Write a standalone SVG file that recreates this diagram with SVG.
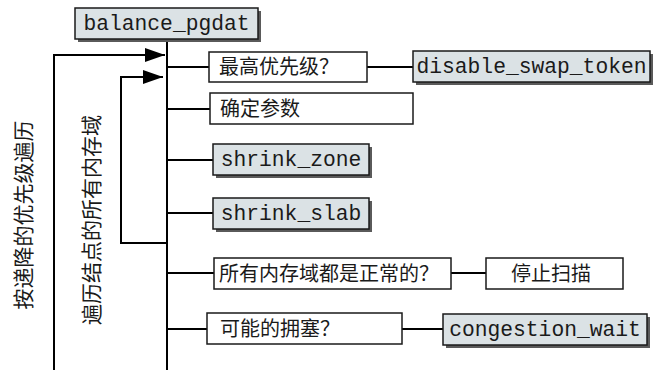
<svg xmlns="http://www.w3.org/2000/svg" width="654" height="370" viewBox="0 0 654 370">
<style>
.box{fill:#ffffff;stroke:#1a1a1a;stroke-width:1.5}
.gbox{fill:#dbe2e5;stroke:#1a1a1a;stroke-width:1.5}
.shadow{fill:#5a5a5a}
.ln{stroke:#000;stroke-width:2;fill:none}
.cj{font-family:"Noto Sans CJK SC","Noto Sans",sans-serif;font-size:20px;fill:#1a1a1a}
.vt{font-family:"Noto Sans CJK SC","Noto Sans",sans-serif;font-size:21px;fill:#1a1a1a}
.mo{font-family:"Liberation Mono","DejaVu Sans Mono",monospace;font-size:21.3px;fill:#1a1a1a}
</style>
<defs>
<marker id="ah" viewBox="0 0 20 14" refX="20" refY="7" markerWidth="20" markerHeight="14" markerUnits="userSpaceOnUse" orient="auto">
<path d="M0,0 L20,7 L0,14 Z" fill="#000"/>
</marker>
</defs>
<g id="connectors">
<line class="ln" x1="167" y1="39" x2="167" y2="370"/>
<polyline class="ln" points="54,370 54,55 165,55" marker-end="url(#ah)"/>
<polyline class="ln" points="167,243 121,243 121,77 163,77" marker-end="url(#ah)"/>
<line class="ln" x1="167" y1="67" x2="209" y2="67"/>
<line class="ln" x1="367" y1="67" x2="413" y2="67"/>
<line class="ln" x1="167" y1="109" x2="210" y2="109"/>
<line class="ln" x1="167" y1="160" x2="213" y2="160"/>
<line class="ln" x1="167" y1="213" x2="213" y2="213"/>
<line class="ln" x1="167" y1="273" x2="214" y2="273"/>
<line class="ln" x1="451" y1="273" x2="486" y2="273"/>
<line class="ln" x1="167" y1="329" x2="207" y2="329"/>
<line class="ln" x1="402" y1="329" x2="443" y2="329"/>
</g>
<g id="balance_pgdat">
<rect class="shadow" x="78" y="11" width="183" height="31"/>
<rect class="gbox" x="75" y="8" width="183" height="31"/>
<text class="mo" x="166.5" y="30" text-anchor="middle">balance_pgdat</text>
</g>
<g id="label_priority">
<text class="vt" transform="translate(22,215) rotate(-90)" text-anchor="middle" dominant-baseline="central">按递降的优先级遍历</text>
</g>
<g id="label_zones">
<text class="vt" transform="translate(90,220) rotate(-90)" text-anchor="middle" dominant-baseline="central">遍历结点的所有内存域</text>
</g>
<g id="highest_priority">
<rect class="box" x="209" y="52" width="158" height="30"/>
<text class="cj" x="219" y="74">最高优先级？</text>
</g>
<g id="disable_swap_token">
<rect class="shadow" x="416" y="54" width="237" height="31"/>
<rect class="gbox" x="413" y="51" width="237" height="31"/>
<text class="mo" x="531.5" y="73" text-anchor="middle">disable_swap_token</text>
</g>
<g id="determine_params">
<rect class="box" x="210" y="93" width="203" height="31"/>
<text class="cj" x="220" y="116">确定参数</text>
</g>
<g id="shrink_zone">
<rect class="shadow" x="216" y="147" width="156" height="31"/>
<rect class="gbox" x="213" y="144" width="156" height="31"/>
<text class="mo" x="291" y="166" text-anchor="middle">shrink_zone</text>
</g>
<g id="shrink_slab">
<rect class="shadow" x="216" y="201" width="156" height="31"/>
<rect class="gbox" x="213" y="198" width="156" height="31"/>
<text class="mo" x="291" y="220" text-anchor="middle">shrink_slab</text>
</g>
<g id="all_zones_ok">
<rect class="box" x="214" y="258" width="237" height="31"/>
<text class="cj" x="219" y="281">所有内存域都是正常的？</text>
</g>
<g id="stop_scan">
<rect class="box" x="486" y="258" width="137" height="31"/>
<text class="cj" x="551" y="281" text-anchor="middle">停止扫描</text>
</g>
<g id="congestion">
<rect class="box" x="207" y="313" width="195" height="31"/>
<text class="cj" x="220" y="336">可能的拥塞？</text>
</g>
<g id="congestion_wait">
<rect class="shadow" x="446" y="317" width="204" height="31"/>
<rect class="gbox" x="443" y="314" width="204" height="31"/>
<text class="mo" x="545" y="336" text-anchor="middle">congestion_wait</text>
</g>
</svg>
